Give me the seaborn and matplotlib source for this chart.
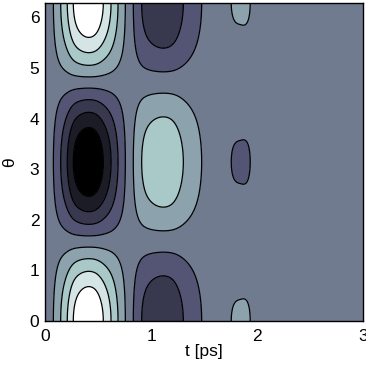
import numpy as np
import matplotlib
matplotlib.use("Agg")
import matplotlib.pyplot as plt
import seaborn as sns

# amplitude of the cos(theta) pattern along t
t_knots = [0.0, 0.04, 0.079, 0.148, 0.21, 0.267, 0.33, 0.41, 0.49, 0.55,
           0.623, 0.689, 0.758, 0.795, 0.833, 0.912, 1.0, 1.11, 1.21, 1.305,
           1.478, 1.6, 1.757, 1.845, 1.936, 2.05, 2.2, 2.5, 3.0]
amp_knots = [0.0, 0.03, 0.111, 0.333, 0.556, 0.778, 0.93, 1.0, 0.93, 0.778,
             0.556, 0.333, 0.111, 0.0, -0.111, -0.333, -0.47, -0.53, -0.48, -0.333,
             -0.111, 0.0, 0.111, 0.122, 0.111, 0.03, 0.0, 0.0, 0.0]
band_levels = [-0.778, -0.556, -0.333, -0.111, 0.111, 0.333, 0.556, 0.778]
x_ticks = [0, 1, 2, 3]
y_ticks = [0, 1, 2, 3, 4, 5, 6]


def natural_spline(xk, yk, x):
    xk = np.asarray(xk, float)
    yk = np.asarray(yk, float)
    n = len(xk)
    h = np.diff(xk)
    A = np.zeros((n, n))
    r = np.zeros(n)
    A[0, 0] = A[-1, -1] = 1
    for i in range(1, n - 1):
        A[i, i - 1] = h[i - 1]
        A[i, i] = 2 * (h[i - 1] + h[i])
        A[i, i + 1] = h[i]
        r[i] = 3 * ((yk[i + 1] - yk[i]) / h[i] - (yk[i] - yk[i - 1]) / h[i - 1])
    c = np.linalg.solve(A, r)
    b = (yk[1:] - yk[:-1]) / h - h * (2 * c[:-1] + c[1:]) / 3
    d = (c[1:] - c[:-1]) / (3 * h)
    idx = np.clip(np.searchsorted(xk, x) - 1, 0, n - 2)
    dx = x - xk[idx]
    return yk[idx] + b[idx] * dx + c[idx] * dx ** 2 + d[idx] * dx ** 3


sns.set_theme(style="white")
plt.rcParams['font.family'] = ['Liberation Sans', 'DejaVu Sans']

t = np.linspace(0, 3, 601)
theta = np.linspace(0, 2 * np.pi, 401)
T, TH = np.meshgrid(t, theta)
Z = natural_spline(t_knots, amp_knots, T) * np.cos(TH)

fig = plt.figure(figsize=(3.66, 3.67), dpi=100)
ax = fig.add_axes([45 / 366, 46 / 367, 318 / 366, 318 / 367])

colors = plt.cm.bone(np.linspace(0, 1, 9))
ax.contourf(T, TH, Z, levels=band_levels, colors=colors, extend='both')
ax.contour(T, TH, Z, levels=band_levels, colors='black', linewidths=0.9,
           linestyles='solid')

ax.set_xlim(0, 3)
ax.set_ylim(0, 2 * np.pi)
ax.set_xticks(x_ticks)
ax.set_yticks(y_ticks)
ax.tick_params(length=0, labelsize=12.5, colors='black')
ax.tick_params(axis='x', pad=6)
ax.tick_params(axis='y', pad=4)
ax.set_xlabel("t [ps]", fontsize=12.5, color='black', labelpad=0)
ax.set_ylabel("θ", fontsize=12.5, color='black', labelpad=9)
for s in ax.spines.values():
    s.set_color('black')
    s.set_linewidth(1.0)

fig.savefig("out.png", dpi=100)
